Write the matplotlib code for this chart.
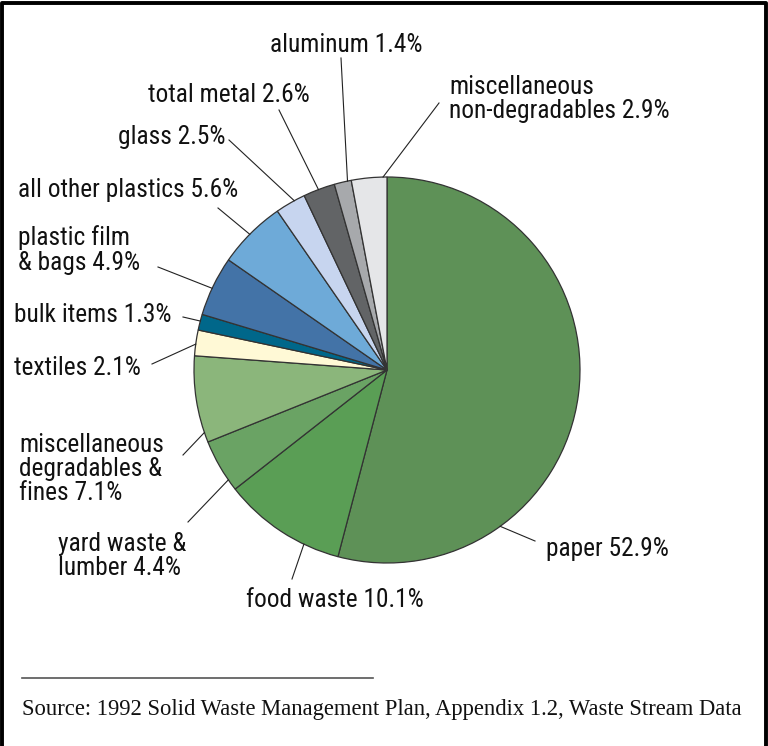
import matplotlib.pyplot as plt
import numpy as np
from matplotlib.lines import Line2D

plt.rcParams['font.family'] = ['Liberation Sans Narrow', 'Roboto Condensed', 'DejaVu Sans']
plt.rcParams['font.stretch'] = 'condensed'

W, H = 768, 746

# slices, clockwise from 12 o'clock
labels = ['paper 52.9%', 'food waste 10.1%', 'yard waste &\nlumber 4.4%',
          'miscellaneous\ndegradables &\nfines 7.1%', 'textiles 2.1%',
          'bulk items 1.3%', 'plastic film\n& bags 4.9%',
          'all other plastics 5.6%', 'glass 2.5%', 'total metal 2.6%',
          'aluminum 1.4%', 'miscellaneous\nnon-degradables 2.9%']
values = [52.9, 10.1, 4.4, 7.1, 2.1, 1.3, 4.9, 5.6, 2.5, 2.6, 1.4, 2.9]
colors = ['#5e9157', '#5a9e55', '#6aa364', '#8bb67b', '#fff9d6', '#00678a',
          '#4373a7', '#6eaad8', '#c7d5ef', '#626466', '#a7a9ac', '#e5e6e8']

# label layout (image pixels): text anchor, alignment, leader start, where on wedge (0..1, clockwise)
text_xy = [(546, 549), (246, 600), (58, 556), (19, 469), (14, 368), (14, 315),
           (18, 250), (18, 190), (225, 137), (310, 95), (346, 45), (449, 99)]
text_ha = ['left', 'left', 'left', 'left', 'left', 'left',
           'left', 'left', 'right', 'right', 'center', 'left']
lead_xy = [(535, 541), (292, 579), (188, 522), (183, 455), (152, 364), (183, 317),
           (158, 267), (218, 208), (229, 140), (279, 110), (341, 58), (439, 103)]
lead_frac = [0.74, 0.29, 0.21, 0.115, 0.45, 0.57, 0.46, 0.48, 0.64, 0.48, 0.78, 0.89]

cx, cy, R = 387, 370, 193

fig = plt.figure(figsize=(W / 100, H / 100), dpi=100)
ax = fig.add_axes([0, 0, 1, 1])

wedges, _ = ax.pie(values, colors=colors, startangle=90, counterclock=False,
                   center=(cx, H - cy), radius=R,
                   wedgeprops=dict(edgecolor='#333333', linewidth=0.9))
ax.set_xlim(0, W)
ax.set_ylim(0, H)
ax.set_aspect('equal')
ax.axis('off')

for w, lab, (tx, ty), ha, (lx, ly), f in zip(wedges, labels, text_xy, text_ha,
                                              lead_xy, lead_frac):
    # clockwise wedges run from theta2 down to theta1
    a = np.deg2rad(w.theta2 - f * (w.theta2 - w.theta1))
    px = cx + R * np.cos(a)
    py = (H - cy) + R * np.sin(a)
    ax.plot([lx, px], [H - ly, py], color='#222222', linewidth=0.8)
    ax.text(tx, H - ty, lab, ha=ha, va='center', fontsize=18.3,
            linespacing=1.02, color='#111111')

# source note
ax.plot([22, 373], [H - 678, H - 678], color='#555555', linewidth=1.2)
ax.text(22, H - 710, 'Source: 1992 Solid Waste Management Plan, Appendix 1.2, Waste Stream Data',
        ha='left', va='center', fontsize=16.3, family='Liberation Serif',
        stretch='normal', color='#111111')

# frame: left, top, right
fig.lines.append(Line2D([0.002, 0.002, 0.997, 0.997], [0, 0.996, 0.996, 0],
                        transform=fig.transFigure, color='black', linewidth=2.8))

fig.savefig('out.png', dpi=100)
